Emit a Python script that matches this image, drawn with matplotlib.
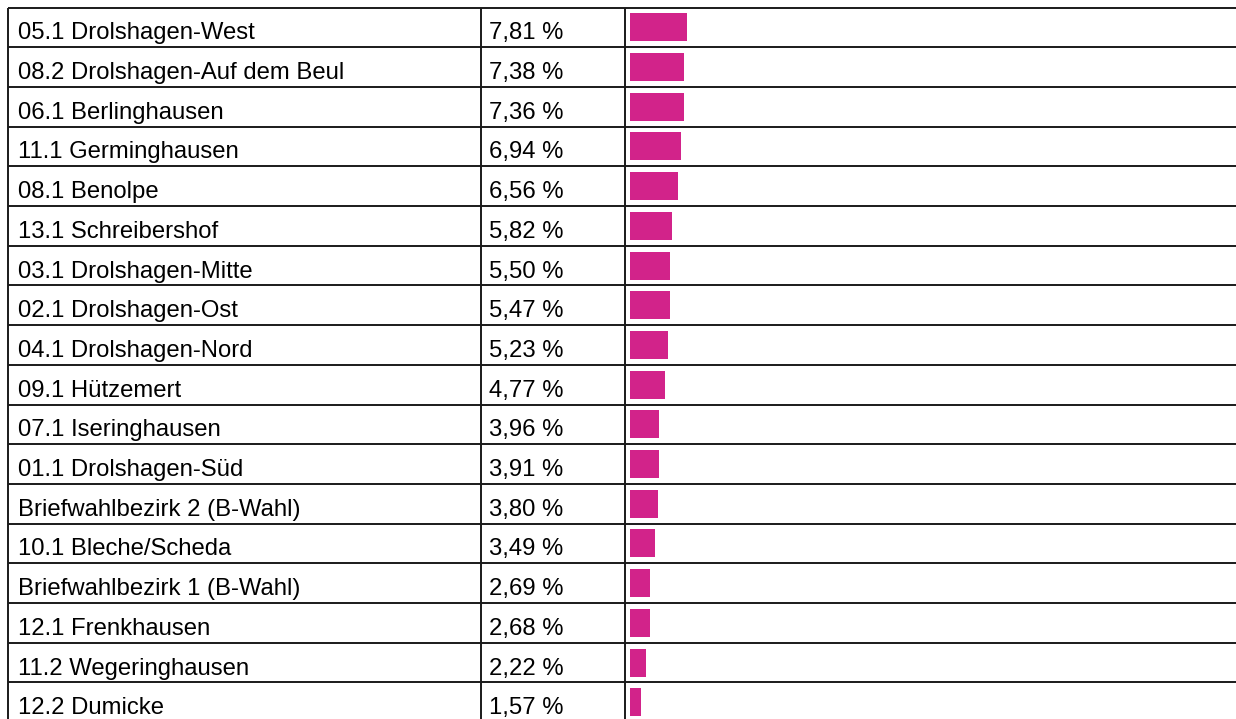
import matplotlib
matplotlib.use('Agg')
import matplotlib.pyplot as plt

# Stimmenanteile je Wahlbezirk
bezirke = [
    '05.1 Drolshagen-West', '08.2 Drolshagen-Auf dem Beul', '06.1 Berlinghausen',
    '11.1 Germinghausen', '08.1 Benolpe', '13.1 Schreibershof',
    '03.1 Drolshagen-Mitte', '02.1 Drolshagen-Ost', '04.1 Drolshagen-Nord',
    '09.1 Hützemert', '07.1 Iseringhausen', '01.1 Drolshagen-Süd',
    'Briefwahlbezirk 2 (B-Wahl)', '10.1 Bleche/Scheda', 'Briefwahlbezirk 1 (B-Wahl)',
    '12.1 Frenkhausen', '11.2 Wegeringhausen', '12.2 Dumicke',
]
anteile = [7.81, 7.38, 7.36, 6.94, 6.56, 5.82, 5.50, 5.47, 5.23,
           4.77, 3.96, 3.91, 3.80, 3.49, 2.69, 2.68, 2.22, 1.57]

W, H = 1236, 719
plt.rcParams['font.family'] = ['Liberation Sans', 'DejaVu Sans']

fig = plt.figure(figsize=(W / 100, H / 100), dpi=100)
ax = fig.add_axes([0, 0, 1, 1])
ax.set_xlim(0, W)
ax.set_ylim(H, 0)
ax.axis('off')

# table geometry in pixels
top = 7.5
row_h = 39.7
col_x = [8, 481, 625]
bar_x0 = 630
px_per_pct = 7.3
bar_h = 28
lw = 1.4

n = len(bezirke)
for i in range(n + 1):
    y = top + i * row_h
    if y < H:
        ax.plot([col_x[0], W], [y, y], color='#1a1a1a', lw=lw, solid_capstyle='butt')
for x in col_x:
    ax.plot([x, x], [top, H], color='#1a1a1a', lw=lw, solid_capstyle='butt')

centers = [top + (i + 0.5) * row_h for i in range(n)]
ax.barh(centers, [v * px_per_pct for v in anteile], left=bar_x0, height=bar_h,
        color='#D2238A', edgecolor='none')

for yc, name, v in zip(centers, bezirke, anteile):
    ax.text(col_x[0] + 10, yc + 12, name, fontsize=17.2, va='baseline', ha='left', color='black')
    ax.text(col_x[1] + 8, yc + 12, f'{v:.2f} %'.replace('.', ','), fontsize=17.2,
            va='baseline', ha='left', color='black')

fig.savefig('out.png', dpi=100, facecolor='white')
